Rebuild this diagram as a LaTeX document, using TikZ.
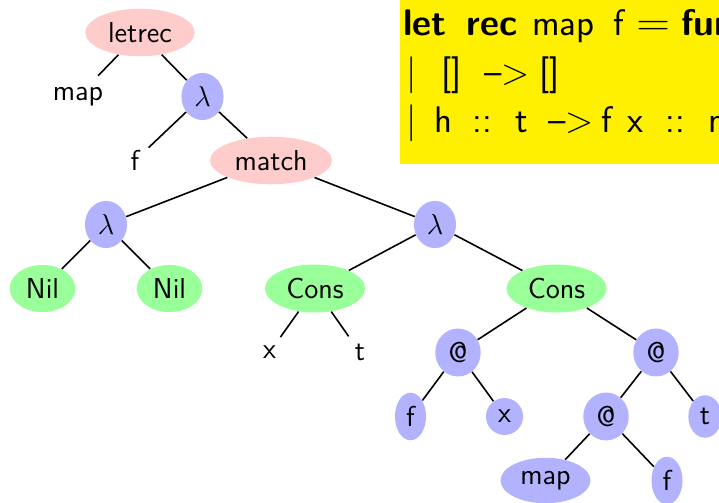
\documentclass[tikz,border=0pt]{standalone}
\usepackage{fontspec}
\usepackage{graphicx}
\usetikzlibrary{shapes.geometric}
\renewcommand{\familydefault}{\sfdefault}
\definecolor{codebg}{RGB}{255,240,0}
% token of a code line, set in a box of fixed width
\newcommand{\tk}[2]{\makebox[#1][l]{#2}}
\begin{document}
\begin{tikzpicture}[x=0.5pt,y=-0.5pt,
  tn/.style={ellipse,inner sep=3.333pt,font=\fontsize{14.4}{17}\selectfont},
  pinknode/.style={tn,fill=red!20},
  bluenode/.style={tn,fill=blue!30},
  greennode/.style={tn,fill=green!40},
  leaf/.style={tn},
  edge/.style={thick},
  codeline/.style={anchor=base west,inner sep=0pt,font=\fontsize{18.5}{22}\selectfont}]
\clip (0,0) rectangle (719,503);

% syntax tree
\node[pinknode]  (letrec) at (140,32.5)   {letrec};
\node[leaf]      (map0)   at (78,96.5)    {map};
\node[bluenode]  (lam1)   at (202.5,96.5) {$\lambda$};
\node[leaf]      (f0)     at (135,160.5)  {f};
\node[pinknode]  (match)  at (271,160.5)  {match};
\node[bluenode]  (lam2)   at (106,224.5)  {$\lambda$};
\node[bluenode]  (lam3)   at (435,224.5)  {$\lambda$};
\node[greennode] (nil1)   at (42.5,288.5) {Nil};
\node[greennode] (nil2)   at (169.5,288.5){Nil};
\node[greennode] (cons1)  at (315,288.5)  {Cons};
\node[greennode] (cons2)  at (556.5,288.5){Cons};
\node[leaf]      (x0)     at (269.5,352.5){x};
\node[leaf]      (t0)     at (360,352.5)  {t};
\node[bluenode]  (app1)   at (458,352.5)  {@};
\node[bluenode]  (app2)   at (656,352.5)  {@};
\node[bluenode]  (f1)     at (410.5,416.5){f};
\node[bluenode]  (x1)     at (504.5,416.5){x};
\node[bluenode]  (app3)   at (606,416.5)  {@};
\node[bluenode]  (t1)     at (705,416.5)  {t};
\node[bluenode]  (map1)   at (545.5,480.5){map};
\node[bluenode]  (f2)     at (667,480.5)  {f};

\draw[edge] (letrec) -- (map0);
\draw[edge] (letrec) -- (lam1);
\draw[edge] (lam1) -- (f0);
\draw[edge] (lam1) -- (match);
\draw[edge] (match) -- (lam2);
\draw[edge] (match) -- (lam3);
\draw[edge] (lam2) -- (nil1);
\draw[edge] (lam2) -- (nil2);
\draw[edge] (lam3) -- (cons1);
\draw[edge] (lam3) -- (cons2);
\draw[edge] (cons1) -- (x0);
\draw[edge] (cons1) -- (t0);
\draw[edge] (cons2) -- (app1);
\draw[edge] (cons2) -- (app2);
\draw[edge] (app1) -- (f1);
\draw[edge] (app1) -- (x1);
\draw[edge] (app2) -- (app3);
\draw[edge] (app2) -- (t1);
\draw[edge] (app3) -- (map1);
\draw[edge] (app3) -- (f2);

% source code box, running past the right edge
\fill[codebg] (400,-10) rectangle (760,164);
\node[codeline] (line1) at (403,35)
  {\tk{31.5pt}{\textbf{let}}\tk{33pt}{\textbf{rec}}\tk{40.5pt}{map}\tk{11.5pt}{f}\tk{22.5pt}{\scalebox{1.35}[1.15]{$=$}}\textbf{function}};
\node[codeline] (line2) at (406,84)
  {\tk{17.5pt}{|}\tk{21.5pt}{[]}\tk{27.5pt}{\textendash>}[]};
\node[codeline] (line3) at (406,132)
  {\tk{14pt}{|}\tk{19pt}{h}\tk{21.5pt}{::}\tk{16.5pt}{t}\tk{26.5pt}{\textendash>}\tk{13pt}{f}\tk{19pt}{x}\tk{21.5pt}{::}map f t};
\end{tikzpicture}
\end{document}
